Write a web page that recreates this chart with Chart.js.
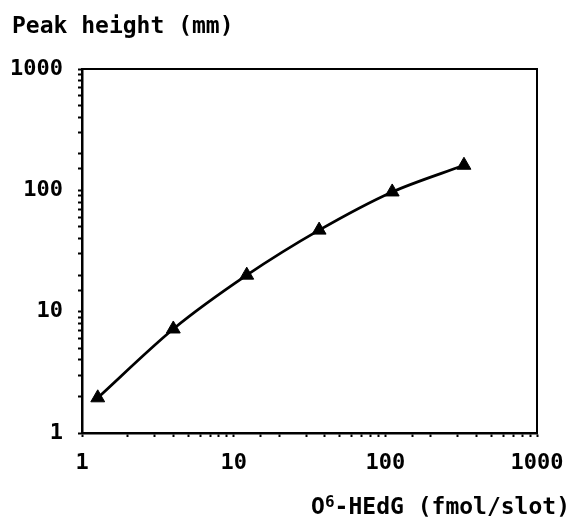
<!DOCTYPE html>
<html>
<head>
<meta charset="utf-8">
<script src="https://cdn.jsdelivr.net/npm/chart.js@4/dist/chart.umd.min.js"></script>
<style>
    body { margin: 0; background: #fff; }
    canvas { display: block; }
</style>
</head>
<body>
<canvas id="chart" width="572" height="518"></canvas>
<script>
// values
const amounts = [1.27, 4.0, 12.2, 36.6, 111, 330];       // O6-HEdG (fmol/slot)
const peakHeights = [1.95, 7.2, 20, 47, 97, 161];         // peak height (mm)
const decadeLabels = [1, 10, 100, 1000];

const yTitle = "Peak height (mm)";
const xTitleParts = ["O", "6", "-HEdG (fmol/slot)"];

const fontFamily = "'DejaVu Sans Mono', 'Liberation Mono', monospace";

const points = amounts.map((x, i) => ({ x: x, y: peakHeights[i] }));

function decadeOnly(value) {
    return decadeLabels.includes(Number(value)) ? String(value) : "";
}

// frame round the plot + the two axis titles
const framePlugin = {
    id: "frame",
    afterDraw(chart) {
        const { ctx, chartArea } = chart;
        ctx.save();
        ctx.strokeStyle = "#000";
        ctx.lineWidth = 2;
        ctx.strokeRect(chartArea.left, chartArea.top, chartArea.right - chartArea.left, chartArea.bottom - chartArea.top);

        ctx.fillStyle = "#000";
        ctx.textBaseline = "alphabetic";
        ctx.textAlign = "left";
        const big = `bold 23px ${fontFamily}`;
        const small = `bold 16px ${fontFamily}`;
        ctx.font = big;
        ctx.fillText(yTitle, 12, 33);

        // x title with a raised 6, right edge at 570
        const baseY = 514;
        ctx.font = big;
        const wO = ctx.measureText(xTitleParts[0]).width;
        const wRest = ctx.measureText(xTitleParts[2]).width;
        ctx.font = small;
        const w6 = ctx.measureText(xTitleParts[1]).width;
        let x = 570 - wRest - w6 - wO;
        ctx.font = big;
        ctx.fillText(xTitleParts[0], x, baseY);
        x += wO;
        ctx.font = small;
        ctx.fillText(xTitleParts[1], x, baseY - 7);
        x += w6;
        ctx.font = big;
        ctx.fillText(xTitleParts[2], x, baseY);
        ctx.restore();
    },
};

new Chart(document.querySelector("#chart"), {
    type: "line",
    data: {
        datasets: [
            {
                data: points,
                borderColor: "#000",
                backgroundColor: "#000",
                borderWidth: 2.8,
                tension: 0.3,
                pointStyle: "triangle",
                pointRadius: 8,
                pointBorderWidth: 1,
                fill: false,
            },
        ],
    },
    options: {
        responsive: false,
        animation: false,
        layout: {
            padding: { top: 69, right: 35, left: 0, bottom: 0 },
        },
        plugins: {
            legend: { display: false },
            tooltip: { enabled: false },
        },
        scales: {
            x: {
                type: "logarithmic",
                min: 1,
                max: 1000,
                afterFit(scale) {
                    scale.height = 85;
                    scale.paddingLeft = 0;
                    scale.paddingRight = 0;
                },
                border: { display: true, color: "#000", width: 2.5 },
                grid: {
                    drawOnChartArea: false,
                    drawTicks: true,
                    tickLength: 4,
                    tickColor: "#000",
                    tickWidth: 2,
                },
                ticks: {
                    autoSkip: false,
                    maxRotation: 0,
                    padding: 13,
                    color: "#000",
                    font: { family: fontFamily, size: 22, weight: "bold" },
                    callback: decadeOnly,
                },
            },
            y: {
                type: "logarithmic",
                min: 1,
                max: 1000,
                afterFit(scale) {
                    scale.width = 82;
                    scale.paddingTop = 0;
                    scale.paddingBottom = 0;
                },
                border: { display: true, color: "#000", width: 2.5 },
                grid: {
                    drawOnChartArea: false,
                    drawTicks: true,
                    tickLength: 4,
                    tickColor: "#000",
                    tickWidth: 2,
                },
                ticks: {
                    autoSkip: false,
                    padding: 15,
                    color: "#000",
                    font: { family: fontFamily, size: 22, weight: "bold" },
                    callback: decadeOnly,
                },
            },
        },
    },
    plugins: [framePlugin],
});
</script>
</body>
</html>
